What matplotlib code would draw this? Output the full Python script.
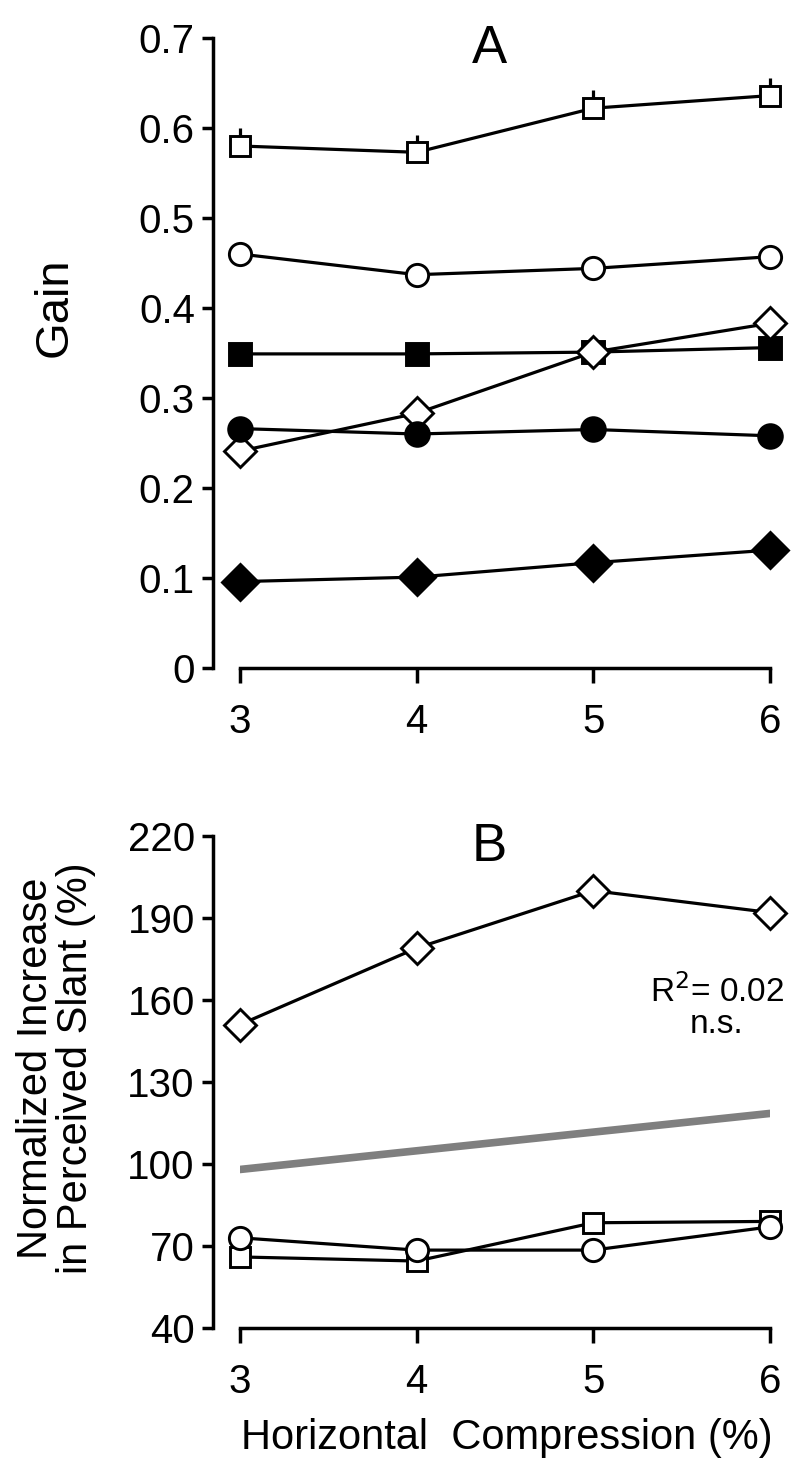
import numpy as np
import matplotlib
matplotlib.use('Agg')
from matplotlib import pyplot as plt

plt.rcParams['font.family'] = ['Liberation Sans', 'DejaVu Sans']

# data
compression = [3, 4, 5, 6]

# panel A - gain
gain_open_sq = [0.580, 0.573, 0.622, 0.636]
gain_open_sq_err = [0.020, 0.019, 0.020, 0.020]
gain_open_circ = [0.460, 0.437, 0.444, 0.457]
gain_fill_sq = [0.349, 0.349, 0.351, 0.356]
gain_open_dia = [0.241, 0.283, 0.351, 0.383]
gain_fill_circ = [0.266, 0.260, 0.265, 0.258]
gain_fill_dia = [0.096, 0.101, 0.117, 0.131]

# panel B - normalized increase in perceived slant
slant_dia = [151, 179, 200, 192]
slant_sq = [66, 64.5, 78.5, 79]
slant_circ = [73, 68.5, 68.5, 77]
fit_x = [3, 6]
fit_y = [98, 118.5]

fig = plt.figure(figsize=(8, 14.75), dpi=100)
axA = fig.add_axes([0.3, 0.54712, 0.6625, 0.42712])
axB = fig.add_axes([0.3, 0.09966, 0.6625, 0.33356])

lw = 2.3
mew = 2.1

def style(ax, ylim, yticks):
    ax.set_xlim(3, 6)
    ax.set_ylim(*ylim)
    ax.set_xticks(compression)
    ax.set_yticks(yticks)
    for s in ['top', 'right']:
        ax.spines[s].set_visible(False)
    ax.spines['left'].set_position(('outward', 19.5))
    ax.spines['left'].set_linewidth(2.5)
    ax.spines['bottom'].set_linewidth(2.5)
    ax.tick_params(axis='y', length=8, width=2.5, labelsize=29, pad=5)
    ax.tick_params(axis='x', length=11, width=2.5, labelsize=29, pad=14)
    ax.patch.set_visible(False)

# panel A
axA.errorbar(compression, gain_open_sq,
             yerr=[np.zeros(4), gain_open_sq_err],
             fmt='none', ecolor='black', elinewidth=lw, capsize=0, zorder=2, clip_on=False)
series = [
    (gain_open_sq, 's', 'white', 15),
    (gain_open_circ, 'o', 'white', 16),
    (gain_fill_sq, 's', 'black', 16),
    (gain_open_dia, 'D', 'white', 16.5),
    (gain_fill_circ, 'o', 'black', 17),
    (gain_fill_dia, 'D', 'black', 18.5),
]
for vals, m, fc, ms in series:
    axA.plot(compression, vals, color='black', lw=lw, marker=m, ms=ms,
             mfc=fc, mec='black', mew=mew, clip_on=False, zorder=3)
style(axA, (0, 0.7), [0, 0.1, 0.2, 0.3, 0.4, 0.5, 0.6, 0.7])
axA.set_yticklabels(['0', '0.1', '0.2', '0.3', '0.4', '0.5', '0.6', '0.7'])
axA.text(0.47, 0.983, 'A', transform=axA.transAxes, ha='center', va='center', fontsize=38)

# panel B
axB.plot(fit_x, fit_y, color='#7f7f7f', lw=5.5, solid_capstyle='round', zorder=2)
axB.plot(compression, slant_dia, color='black', lw=lw, marker='D', ms=16.5,
         mfc='white', mec='black', mew=mew, clip_on=False, zorder=3)
axB.plot(compression, slant_sq, color='black', lw=lw, marker='s', ms=15,
         mfc='white', mec='black', mew=mew, clip_on=False, zorder=3)
axB.plot(compression, slant_circ, color='black', lw=lw, marker='o', ms=16,
         mfc='white', mec='black', mew=mew, clip_on=False, zorder=4)
style(axB, (40, 220), [40, 70, 100, 130, 160, 190, 220])
axB.text(0.47, 0.978, 'B', transform=axB.transAxes, ha='center', va='center', fontsize=38)
axB.text(5.7, 163, r'R$^2$= 0.02', ha='center', va='center', fontsize=24)
axB.text(5.7, 151, 'n.s.', ha='center', va='center', fontsize=24)

fig.text(55 / 800, 1 - 307 / 1475, 'Gain', rotation=90, ha='center', va='center', fontsize=34)
fig.text(56 / 800, 1 - 1068 / 1475, 'Normalized Increase\nin Perceived Slant (%)',
         rotation=90, ha='center', va='center', fontsize=30, linespacing=1.0)
fig.text(507 / 800, 1 - 1438 / 1475, 'Horizontal  Compression (%)',
         ha='center', va='center', fontsize=30)

fig.savefig('out.png', dpi=100)
